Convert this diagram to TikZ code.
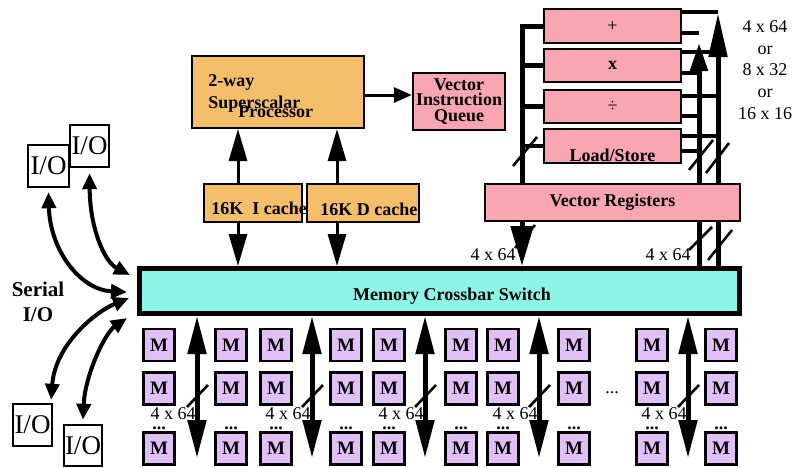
\documentclass[tikz,border=0pt]{standalone}
\usepackage{fontspec}
\setmainfont{Liberation Serif}
\usetikzlibrary{arrows.meta,positioning,calc,backgrounds}
\definecolor{oc}{RGB}{245,190,105}
\definecolor{pc}{RGB}{250,165,178}
\definecolor{cc}{RGB}{140,245,230}
\definecolor{mc}{RGB}{225,192,250}
\tikzset{obox/.style={draw,fill=oc,line width=1pt,inner sep=0pt},
 pbox/.style={obox,fill=pc,line width=1.2pt,font=\fontsize{9}{9}\selectfont\bfseries},
 mem/.style={draw,fill=mc,line width=1.3pt,minimum width=15.5pt,minimum height=16pt,inner sep=0pt,font=\fontsize{9.5}{9.5}\selectfont\bfseries},
 iob/.style={draw,line width=1.2pt,inner sep=0pt,font=\fontsize{13.5}{13.5}\selectfont},
 btxt/.style={inner sep=0pt,font=\fontsize{9}{9}\selectfont\bfseries},
 ntxt/.style={inner sep=0pt,font=\fontsize{9}{9}\selectfont},
 bus/.style={line width=2.5pt},stub/.style={line width=2.2pt},cutmark/.style={line width=1.3pt},
 carr/.style={-{Triangle[length=16pt,width=9pt]},line width=1.5pt},
 parr/.style={-{Triangle[length=9pt,width=7.5pt]},line width=1.5pt},
 varr/.style={-{Triangle[length=20pt,width=11pt]},line width=2.5pt},
 marr/.style={{Triangle[length=19pt,width=9pt]}-{Triangle[length=19pt,width=9pt]},line width=2.5pt},
 ioarr/.style={{Triangle[length=8pt,width=7pt]}-{Triangle[length=8pt,width=7pt]},line width=2pt}}

\begin{document}
\begin{tikzpicture}[x=0.5pt,y=-0.5pt]
\useasboundingbox (0,0) rectangle (796,467);
% processor, queue, caches
\node[obox,minimum width=86pt,minimum height=36pt] (proc) at (278,92) {};
\node[btxt,anchor=base west] (p1) at (208,86) {2-way};
\node[btxt,anchor=base west] (p2) at (208,108) {Superscalar};
\node[btxt,anchor=base west] (p3) at (238,117) {Processor};
\node[pbox,minimum width=46pt,minimum height=28.5pt,align=center,font=\fontsize{9}{7.8}\selectfont\bfseries] (viq) at (459,101.5) {Vector\\Instruction\\Queue};
\node[obox,minimum width=49pt,minimum height=19pt] (icache) at (253,203) {};
\node[obox,minimum width=56pt,minimum height=19pt] (dcache) at (363,203) {};
\node[btxt,anchor=base west] (ict) at (211,214) {16K\ \ I cache};
\node[btxt,anchor=base west] (dct) at (320,215) {16K D cache};
% crossbar
\node[draw,fill=cc,line width=2.5pt,minimum width=300pt,minimum height=22.5pt] (xbar) at (439.5,291) {};
\node[btxt] (xbt) at (452,296) {Memory Crossbar Switch};
% vector units
\node[pbox,minimum width=68.5pt,minimum height=17pt,font=\fontsize{9}{9}\selectfont] (plus) at (612.5,26) {+};
\node[pbox,minimum width=68.5pt,minimum height=16.5pt] (times) at (612.5,65.5) {x};
\node[pbox,minimum width=68.5pt,minimum height=16.5pt,font=\fontsize{9}{9}\selectfont] (div) at (612.5,106.5) {÷};
\node[pbox,minimum width=68.5pt,minimum height=17pt] (ls) at (612.5,146) {};
\node[btxt] (lst) at (612.5,155) {Load/Store};
\node[pbox,minimum width=127.5pt,minimum height=18.5pt] (vr) at (612.5,202.5) {Vector Registers};
\coordinate (lb) at (522,24);
\coordinate (ri) at (699,43);
\coordinate (ro) at (718,13);
\begin{scope}[on background layer]
\draw[bus,-{Triangle[length=14pt,width=8.5pt]}] (xbar.north -| ri) -- (ri);
\draw[bus,-{Triangle[length=22pt,width=9pt]}] (xbar.north -| ro) -- (ro);
\end{scope}
\draw[bus] (plus.west) -| (vr.north -| lb);
\foreach \u in {times,div,ls} \draw[stub] (\u.west) -- (\u.west -| lb);
\foreach \y in {12,52,96,136} \draw[stub] (plus.east |- 0,\y) -- (ro |- 0,\y);
\foreach \y in {33,73,116,151} \draw[stub] (plus.east |- 0,\y) -- (ri |- 0,\y);
\draw[varr] (vr.south -| lb) -- (xbar.north -| lb);
\draw[cutmark] (513,166) -- (537,137);
\draw[cutmark] (515,248) -- (535,225);
\draw[cutmark] (689,170) -- (713,140);
\draw[cutmark] (706,173) -- (729,143);
\draw[cutmark] (689,250) -- (712,227);
\draw[cutmark] (708,260) -- (732,230);
\node[ntxt,anchor=east] (vw1) at (516,255) {4 x 64};
\node[ntxt] (vw2) at (668,255) {4 x 64};
\node[ntxt,align=center,font=\fontsize{9}{10.9}\selectfont] (widths) at (765,70) {4 x 64\\or\\8 x 32\\or\\16 x 16};
% processor side arrows
\coordinate (ic) at (238,0);
\coordinate (dc) at (337,0);
\draw[parr] (proc.east |- 0,95) -- (viq.west |- 0,95);
\draw[carr] (icache.north -| ic) -- (proc.south -| ic);
\draw[carr] (icache.south -| ic) -- (xbar.north -| ic);
\draw[carr] (dcache.north -| dc) -- (proc.south -| dc);
\draw[carr] (dcache.south -| dc) -- (xbar.north -| dc);
% memory banks
\foreach \c [count=\i] in {143,215,260,330,373,445,487,558,636,705} {
  \foreach \r/\yy in {1/345,2/388.5,3/448.5}
    \node[mem] (m\i-\r) at (\c+16,\yy) {M};
  \node[btxt,anchor=base] (d\i) at (\c+16,429) {...};
}
\node[ntxt,anchor=base] (gap) at (612,393) {...};
\foreach \x in {197,312,425,539,688} {
  \coordinate (e\x) at (\x,458);
  \draw[marr] (xbar.south -| e\x) -- (e\x);
  \draw[cutmark] (\x-10,407) -- ++(21,-22);
  \node[ntxt,anchor=east] (w\x) at (\x-1,414) {4 x 64};
}
% serial I/O
\node[iob,minimum width=20.5pt,minimum height=21pt] (io1) at (48.5,166) {I/O};
\node[iob,minimum width=19.5pt,minimum height=21pt] (io2) at (89.5,146) {I/O};
\node[iob,minimum width=19.5pt,minimum height=21pt] (io3) at (32.5,425) {I/O};
\node[iob,minimum width=19pt,minimum height=20.5pt] (io4) at (83,445.5) {I/O};
\node[btxt,align=center,font=\fontsize{10.5}{12.5}\selectfont\bfseries] (ser) at (38,302) {Serial\\I/O};
\draw[ioarr] ($(io1.south)+(0,4)$) .. controls (50,250) and (80,290) .. ($(xbar.west)+(-10,1)$);
\draw[ioarr] ($(io2.south)+(0,5)$) .. controls (90,230) and (105,262) .. ($(xbar.west)+(-7,-16)$);
\draw[ioarr] ($(xbar.west)+(-8,7)$) .. controls (95,312) and (55,345) .. ($(io3.north east)+(-2,-3)$);
\draw[ioarr] ($(xbar.west)+(-10,27)$) .. controls (105,333) and (85,375) .. ($(io4.north)+(0,-4)$);
\end{tikzpicture}
\end{document}
